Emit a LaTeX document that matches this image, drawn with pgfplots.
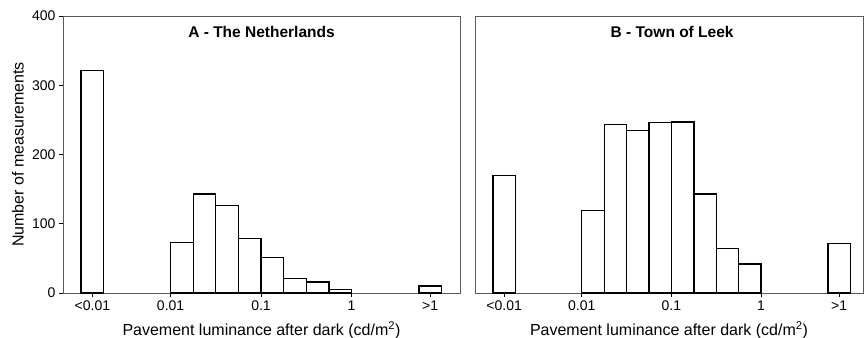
\documentclass[border=0pt]{standalone}
\usepackage{pgfplots}
\pgfplotsset{compat=1.18}
\usepackage{fontspec}
\setmainfont{Liberation Sans}
\definecolor{frame}{HTML}{5A5A5A}
\pgfplotsset{
  histo/.style={
    scale only axis,
    height=277bp,
    ymin=0, ymax=400,
    xmin=-3.19,
    axis line style={draw=frame, line width=1pt},
    tick style={draw=black, line width=0.8pt},
    tick align=outside,
    major tick length=4bp,
    xtick={-2.865,-2,-1,0,0.87},
    xticklabels={{<0.01},{0.01},{0.1},{1},{>1}},
    x tick label as interval=false,
    tick label style={font=\fontsize{14bp}{16bp}\selectfont},
    /pgf/number format/assume math mode=true,
    xlabel={Pavement luminance after dark (cd/m\textsuperscript{2})},
    xlabel style={font=\fontsize{16bp}{18bp}\selectfont, anchor=center, at={(rel axis cs:0.5,0)}, yshift=-37bp},
    xtick pos=bottom, ytick pos=left,
    clip=false,
  },
  bars/.style={ybar interval, fill=white, draw=black, line width=1.3pt},
}
\begin{document}
\begin{tikzpicture}
\useasboundingbox (0,0) rectangle (864bp,338bp);
\begin{axis}[histo,
  at={(63bp,45bp)}, anchor=south west,
  width=397bp, xmax=1.2,
  ytick={0,100,200,300,400},
  ylabel={Number of measurements},
  ylabel style={font=\fontsize{16bp}{18bp}\selectfont, anchor=center, at={(rel axis cs:0,0.5)}, yshift=45bp},
]
\addplot[bars] coordinates {(-2.99,321) (-2.74,321)};
\addplot[bars] coordinates {(-2,73) (-1.75,143) (-1.5,126) (-1.25,79) (-1,51) (-0.75,21) (-0.5,16) (-0.25,5) (0,5)};
\addplot[bars] coordinates {(0.745,10) (0.995,10)};
\node[font=\bfseries\fontsize{15.5bp}{17bp}\selectfont] at (rel axis cs:0.5,0.942) {A - The Netherlands};
\end{axis}
\begin{axis}[histo,
  at={(475bp,45bp)}, anchor=south west,
  width=388bp, xmax=1.136,
  ytick=\empty,
]
\addplot[bars] coordinates {(-2.99,170) (-2.74,170)};
\addplot[bars] coordinates {(-2,119) (-1.75,243) (-1.5,235) (-1.25,246) (-1,247) (-0.75,143) (-0.5,64) (-0.25,42) (0,42)};
\addplot[bars] coordinates {(0.745,71) (0.995,71)};
\node[font=\bfseries\fontsize{15.5bp}{17bp}\selectfont] at (rel axis cs:0.508,0.942) {B - Town of Leek};
\end{axis}
\end{tikzpicture}
\end{document}
